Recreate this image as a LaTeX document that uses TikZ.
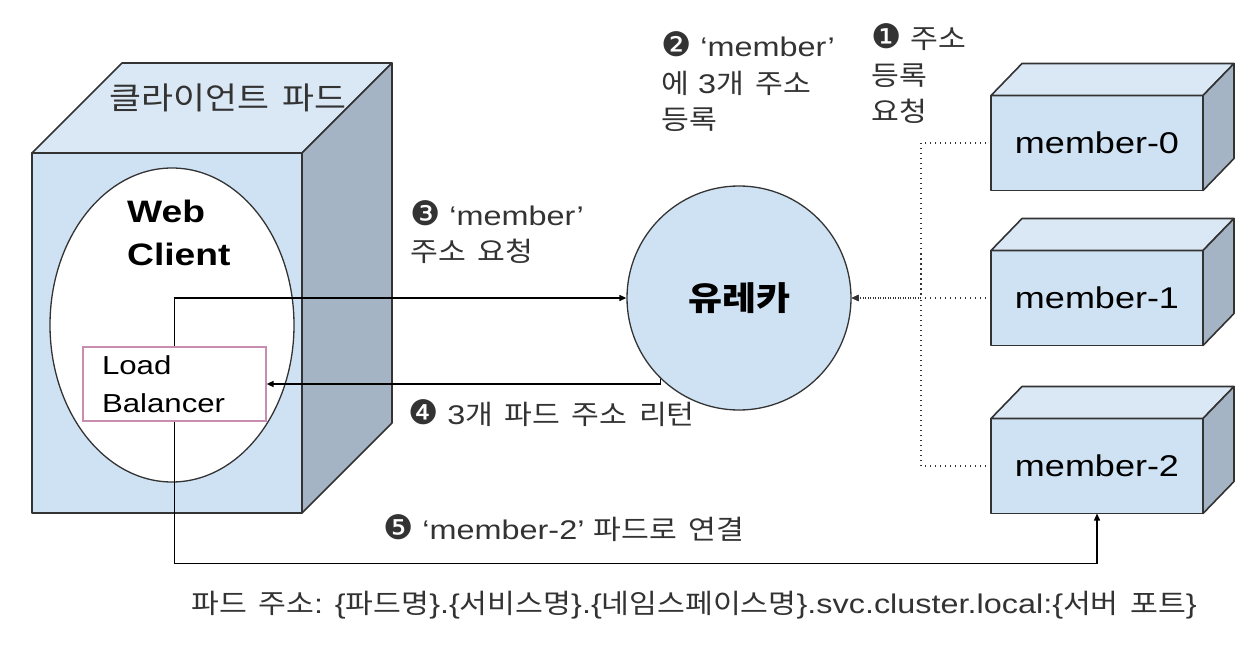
\documentclass[tikz,border=0pt]{standalone}
\usepackage{fontspec}
\setmainfont{Liberation Sans}[FakeStretch=1.2]
\newfontfamily\krfont{Noto Sans CJK KR}[FakeStretch=1.12, WordSpace=1.7]
\newfontfamily\dingfont{DejaVu Sans}[Scale=1.25]
\newcommand{\kr}[1]{{\krfont #1}}
\newcommand{\callout}[1]{{\dingfont #1}}
\usetikzlibrary{arrows.meta, shapes.geometric}

\definecolor{podblue}{HTML}{CFE2F3}
\definecolor{podtop}{HTML}{DAE7F5}
\definecolor{podside}{HTML}{A5B4C4}
\definecolor{lbpink}{HTML}{C98DB0}
\definecolor{edge}{HTML}{333333}
\definecolor{notegray}{HTML}{333333}

\tikzset{
  face/.style={draw=edge, line width=1.6pt, line join=round, outer sep=0pt, inner sep=0pt},
  arrow/.style={-{Triangle[length=7pt,width=6pt]}, line width=1.4pt, draw=black},
  regline/.style={dash pattern=on 1.5pt off 3.5pt, line width=1.3pt, draw=edge,
    -{Triangle[length=7pt,width=6pt]}},
  note/.style={align=left, anchor=west, text=notegray, inner sep=0pt,
    font=\fontsize{27}{36.5}\selectfont},
}

\begin{document}
\begin{tikzpicture}[x=1pt, y=-1pt]
  \useasboundingbox (0,0) rectangle (1260,652);
  % Client pod: front face, then top and side
  \node[face, fill=podblue, minimum width=270pt, minimum height=360pt] (pod) at (167,333) {};
  \draw[face, fill=podtop] (pod.north west) -- ++(90,-90) -- ++(270,0) -- (pod.north east) -- cycle;
  \draw[face, fill=podside] (pod.north east) -- ++(90,-90) -- ++(0,360) -- (pod.south east) -- cycle;
  \node[font=\krfont\fontsize{31}{31}\selectfont, text=edge] (podname) at (228,98) {클라이언트 파드};
  % Web client and its load balancer
  \node[ellipse, draw=edge, line width=1.3pt, fill=white, minimum width=244pt,
    minimum height=314pt, inner sep=0pt] (client) at (172,325) {};
  \node[anchor=west, align=left, inner sep=0pt,
    font=\bfseries\fontsize{31}{43}\selectfont] (clientname) at (127,233) {Web\\Client};
  \node[draw=lbpink, line width=1.2pt, fill=white, text width=145pt, inner xsep=19pt,
    minimum height=74pt, align=left, font=\fontsize{26}{38}\selectfont] (lb) at (174.5,384) {Load\\Balancer};
  % Eureka server
  \node[circle, draw=edge, line width=1.3pt, fill=podblue, minimum size=224pt, inner sep=0pt,
    font=\krfont\bfseries\fontsize{33}{33}\selectfont] (eureka) at (739,298) {유레카};
  % Member pods
  \foreach \i/\y in {0/143,1/298,2/466} {
    \node[face, fill=podblue, minimum width=212pt, minimum height=95pt,
      font=\fontsize{30}{30}\selectfont] (m\i) at (1097,\y) {member-\i};
    \draw[face, fill=podtop] (m\i.north west) -- ++(31,-32) -- ++(212,0) -- (m\i.north east) -- cycle;
    \draw[face, fill=podside] (m\i.north east) -- ++(31,-32) -- ++(0,95) -- (m\i.south east) -- cycle;
  }
  % Requests and replies
  \draw[arrow] (lb.north) |- (eureka.west);
  \draw[arrow] (eureka.226) |- (lb.east);
  \draw[arrow] (lb.south) -- ++(0,142) -| (m2.south);
  % Registration (dotted)
  \draw[regline] (m0.west) -- ++(-70,0) |- (eureka.east);
  \draw[regline] (m1.west) -- (eureka.east);
  \draw[regline] (m2.west) -- ++(-70,0) |- (eureka.east);
  % Step labels
  \node[note] (n1) at (871,74) {\callout{❶} \kr{주소}\\\kr{등록}\\\kr{요청}};
  \node[note] (n2) at (661,82) {\callout{❷} ‘member’\\\kr{에} 3\kr{개 주소}\\\kr{등록}};
  \node[note] (n3) at (410,232) {\callout{❸} ‘member’\\\kr{주소 요청}};
  \node[note] (n4) at (408,413) {\callout{❹} 3\kr{개 파드 주소 리턴}};
  \node[note] (n5) at (383,528) {\callout{❺} ‘member-2’ \kr{파드로 연결}};
  \node[note, font=\fontsize{27}{30}\selectfont, text=edge] (addr) at (191,605)
    {\kr{파드 주소}: \{\kr{파드명}\}.\{\kr{서비스명}\}.\{\kr{네임스페이스명}\}.svc.cluster.local:\{\kr{서버 포트}\}};
\end{tikzpicture}
\end{document}
